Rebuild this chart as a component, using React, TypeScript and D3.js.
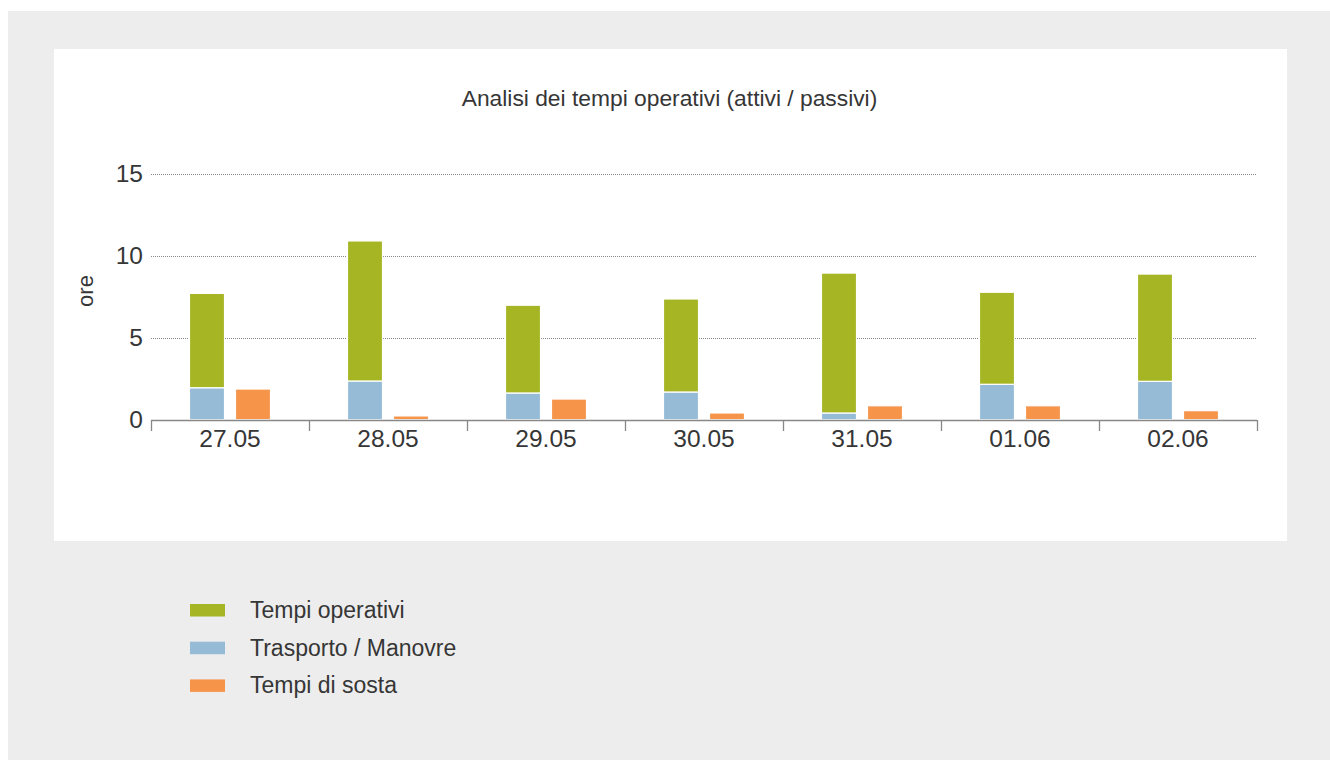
import React from 'react';
import * as d3 from 'd3';

const days = ['27.05', '28.05', '29.05', '30.05', '31.05', '01.06', '02.06'];
const trasporto = [1.95, 2.36, 1.63, 1.69, 0.41, 2.16, 2.34];
const operativi = [5.75, 8.54, 5.35, 5.67, 8.53, 5.61, 6.54];
const sosta = [1.87, 0.23, 1.26, 0.41, 0.85, 0.85, 0.55];
const yTicks = [0, 5, 10, 15];

const legendItems = [
  { label: 'Tempi operativi', color: '#a5b523' },
  { label: 'Trasporto / Manovre', color: '#96bbd7' },
  { label: 'Tempi di sosta', color: '#f6944a' },
];

const FONT = '"Liberation Sans", Arial, sans-serif';
const TEXT = '#363636';

export default function App() {
  const x = d3.scaleBand().domain(days).range([151, 1257]);
  const y = d3.scaleLinear().domain([0, 15]).range([419.7, 173.7]);
  const barW = 35;
  const gap = 11;

  const rows = days.map((d, i) => ({
    day: d,
    trasporto: trasporto[i],
    operativi: operativi[i],
    sosta: sosta[i],
  }));
  const stacked = d3.stack<any>().keys(['trasporto', 'operativi'])(rows);
  const colors: Record<string, string> = { trasporto: '#96bbd7', operativi: '#a5b523' };

  const xTicks = [...days.map(d => x(d)!), 1257];

  return (
    <svg width={1330} height={760} style={{ position: 'absolute', left: 0, top: 0 }} fontFamily={FONT}>
      <rect x={8} y={11} width={1322} height={749} fill="#ededed" />
      <rect x={54} y={49} width={1233} height={492} fill="#ffffff" />

      <text x={669.5} y={106} textAnchor="middle" fontSize={22.8} fill={TEXT}>
        Analisi dei tempi operativi (attivi / passivi)
      </text>

      {/* gridlines */}
      {yTicks.filter(t => t > 0).map(t => (
        <line key={t} x1={151} x2={1257} y1={Math.round(y(t)) + 0.5} y2={Math.round(y(t)) + 0.5}
          stroke="#888" strokeWidth={1} strokeDasharray="1,1" />
      ))}
      {yTicks.map(t => (
        <text key={t} x={143} y={y(t) + 8.7} textAnchor="end" fontSize={24.5} fill={TEXT}>{t}</text>
      ))}
      <text transform={`translate(93,291) rotate(-90)`} textAnchor="middle" fontSize={22} fill={TEXT}>ore</text>

      {/* stacked bars */}
      {stacked.map(layer => layer.map((seg, i) => (
        <rect key={layer.key + i}
          x={x(days[i])! + x.bandwidth() / 2 - (barW * 2 + gap) / 2}
          y={y(seg[1])}
          width={barW}
          height={y(seg[0]) - y(seg[1])}
          fill={colors[layer.key]} stroke="#fff" strokeWidth={1.2} />
      )))}
      {/* sosta bars */}
      {rows.map((r, i) => (
        <rect key={'s' + i}
          x={x(r.day)! + x.bandwidth() / 2 - (barW * 2 + gap) / 2 + barW + gap}
          y={y(r.sosta)}
          width={barW}
          height={y(0) - y(r.sosta)}
          fill="#f6944a" stroke="#fff" strokeWidth={1.2} />
      ))}

      {/* x axis */}
      <line x1={151} x2={1257} y1={420.5} y2={420.5} stroke="#888" strokeWidth={1.3} />
      {xTicks.map((t, i) => (
        <line key={i} x1={t + 0.5} x2={t + 0.5} y1={420} y2={431} stroke="#888" strokeWidth={1.3} />
      ))}
      {days.map(d => (
        <text key={d} x={x(d)! + x.bandwidth() / 2} y={447} textAnchor="middle" fontSize={24.5} fill={TEXT}>{d}</text>
      ))}

      {/* legend */}
      {legendItems.map((l, i) => (
        <g key={l.label} transform={`translate(190,${604 + i * 37.7})`}>
          <rect x={0} y={0} width={35} height={12.5} fill={l.color} />
          <text x={60} y={14} fontSize={23} fill={TEXT}>{l.label}</text>
        </g>
      ))}
    </svg>
  );
}
